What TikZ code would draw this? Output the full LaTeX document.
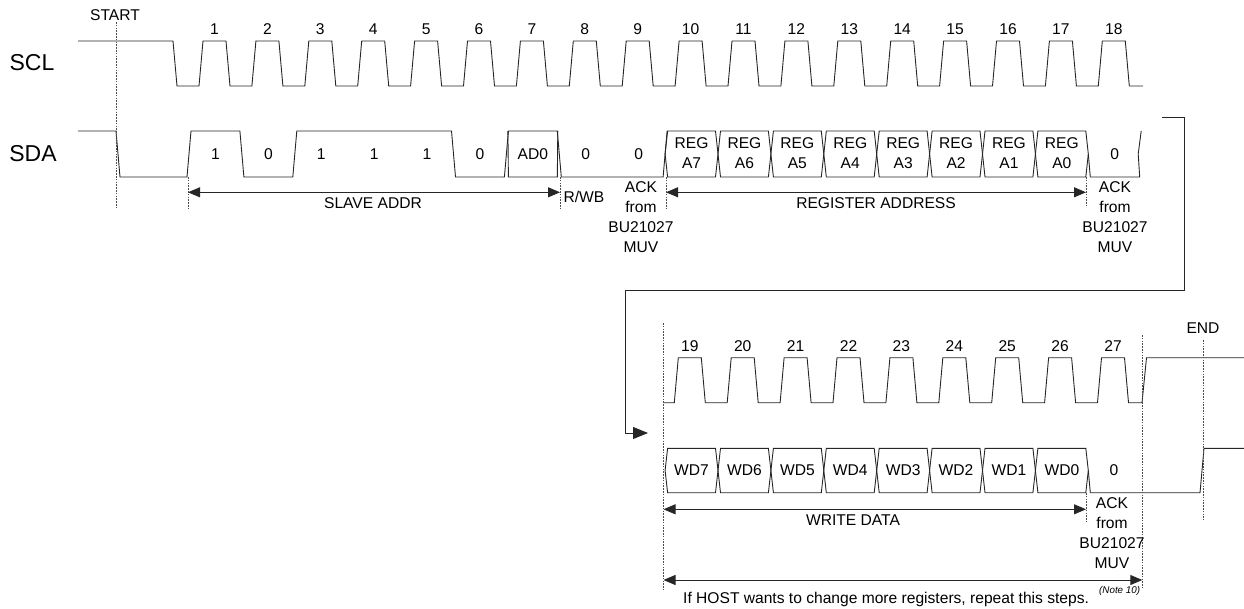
\documentclass[tikz,border=0pt]{standalone}
\usepackage{fontspec}
\setmainfont{Liberation Sans}
\usetikzlibrary{arrows.meta}
\begin{document}
\begin{tikzpicture}[x=1pt,y=-1pt,
  sig/.style={line width=0.9pt,black!85,line join=miter},
  cell/.style={line width=0.9pt,black!85},
  dsh/.style={line width=0.8pt,black!70,dash pattern=on 1.6pt off 1.2pt},
  darr/.style={line width=0.9pt,black!85,{Triangle[length=12pt,width=10pt]}-{Triangle[length=12pt,width=10pt]}},
  loop/.style={line width=0.9pt,black!85,-{Triangle[length=15pt,width=12pt]}},
  lbl/.style={inner sep=0pt,font=\fontsize{15.6}{20}\selectfont,align=center},
  big/.style={inner sep=0pt,font=\fontsize{23}{26}\selectfont},
  note/.style={inner sep=0pt,font=\fontsize{9.8}{11}\selectfont\itshape}]
\useasboundingbox (0,0) rectangle (1244,608);
\def\P{52.9}
% ---------- labels
\node[big] (scl) at (32,63) {SCL};
\node[big] (sda) at (33,154) {SDA};
\node[lbl] (start) at (115,15) {START};
\node[lbl] (endl) at (1203,328) {END};
% ---------- SCL top
\draw[sig] (78,41) -- (173,41) -- (177,86)
  \foreach \k in {1,...,18}{ -- ({203+(\k-1)*\P-4},86) -- ({203+(\k-1)*\P},41) -- ({203+(\k-1)*\P+23},41) -- ({203+(\k-1)*\P+27},86)}
  -- (1143,86);
\foreach \k in {1,...,18}
  \node[lbl] (n\k) at ({203+(\k-1)*\P+11.5},29) {\k};
% ---------- SDA top
\draw[sig] (78,131) -- (116,131) -- (120,177) -- ({189-2},177) -- ({189+2},131)
  -- ({189+\P-2},131) -- ({189+\P+2},177) -- ({189+2*\P-2},177) -- ({189+2*\P+2},131)
  -- ({189+5*\P-2},131) -- ({189+5*\P+2},177) -- ({189+6*\P-2},177) -- ({189+6*\P+2},131)
  -- ({189+7*\P-2},131) -- ({189+7*\P+2},177) -- ({189+9*\P-2},177) -- ({189+9*\P+2},131);
\draw[cell] ({189+6*\P+1.5},131) -- ({189+6*\P+2},177) -- ({189+7*\P-2},177) -- ({189+7*\P-1.5},131);
\foreach \j in {9,...,16}
  \draw[cell] ({189+\j*\P+2.5},131) -- ({189+(\j+1)*\P-2.5},131) -- ({189+(\j+1)*\P},154)
    -- ({189+(\j+1)*\P-2.5},177) -- ({189+\j*\P+2.5},177) -- ({189+\j*\P},154) -- cycle;
\draw[sig] ({189+17*\P},154) -- ({189+17*\P+2},177) -- ({189+18*\P-1.5},177) -- ({189+18*\P-3},154) -- ({189+18*\P},131);
% bit labels
\foreach \j/\t in {0/1,1/0,2/1,3/1,4/1,5/0,6/AD0,7/0,8/0,17/0}
  \node[lbl] (b\j) at ({189+(\j+0.5)*\P},154) {\t};
\foreach \j/\t in {9/7,10/6,11/5,12/4,13/3,14/2,15/1,16/0}
  \node[lbl] (r\j) at ({189+(\j+0.5)*\P},153) {REG\\A\t};
% top annotations
\coordinate (sa1) at (188,192.3);
\coordinate (sa2) at (560,192.3);
\coordinate (ra1) at (666,192.3);
\coordinate (ra2) at (1086,192.3);
\draw[darr] (sa1) -- (sa2);
\draw[darr] (ra1) -- (ra2);
\coordinate (st1) at (116,22); \coordinate (st2) at (116,208);
\coordinate (d1a) at (188,177); \coordinate (d1b) at (188,208);
\coordinate (d2a) at (560,177); \coordinate (d2b) at (560,208);
\coordinate (d3a) at (666,177); \coordinate (d3b) at (666,208);
\coordinate (d4a) at (1086,177); \coordinate (d4b) at (1086,206);
\draw[dsh] (st1) -- (st2);
\draw[dsh] (d1a) -- (d1b);
\draw[dsh] (d2a) -- (d2b);
\draw[dsh] (d3a) -- (d3b);
\draw[dsh] (d4a) -- (d4b);
\node[lbl] (slave) at (373,203) {SLAVE ADDR};
\node[lbl] (regad) at (876,203) {REGISTER ADDRESS};
\node[lbl] (rwb) at (584,197) {R/WB};
\node[lbl] (ack1) at (641,217.5) {ACK\\from\\BU21027\\MUV};
\node[lbl] (ack2) at (1115,217.5) {ACK\\from\\BU21027\\MUV};
% ---------- loop arrow
\coordinate (l0) at (1162,117);
\coordinate (l1) at (1184,117);
\coordinate (l2) at (1184,290);
\coordinate (l3) at (625,290);
\coordinate (l4) at (625,433);
\coordinate (l5) at (648,433);
\draw[loop] (l0) -- (l1) -- (l2) -- (l3) -- (l4) -- (l5);
% ---------- SCL bottom
\draw[sig] (663.5,402.7) -- (674.3,402.7)
  \foreach \k in {0,...,8}{ -- ({678.3+\k*\P-4},402.7) -- ({678.3+\k*\P},357.7) -- ({678.3+\k*\P+23},357.7) -- ({678.3+\k*\P+27},402.7)}
  -- (1142,402.7) -- (1146.5,357.7) -- (1244,357.7);
\foreach \k in {19,...,27}
  \node[lbl] (n\k) at ({678.3+(\k-19)*\P+11.5},346) {\k};
% ---------- SDA bottom
\foreach \j in {9,...,16}
  \draw[cell] ({189+\j*\P+2.5},448.3) -- ({189+(\j+1)*\P-2.5},448.3) -- ({189+(\j+1)*\P},470.5)
    -- ({189+(\j+1)*\P-2.5},492.7) -- ({189+\j*\P+2.5},492.7) -- ({189+\j*\P},470.5) -- cycle;
\draw[sig] ({189+17*\P},470.5) -- ({189+17*\P+2},492.7) -- (1200,492.7) -- (1204,448.3) -- (1244,448.3);
\foreach \j/\t in {9/7,10/6,11/5,12/4,13/3,14/2,15/1,16/0}
  \node[lbl] (w\j) at ({189+(\j+0.5)*\P},470.5) {WD\t};
\node[lbl] (bz) at (1114,470.5) {0};
% bottom dashed
\coordinate (e1a) at (663.5,323); \coordinate (e1b) at (663.5,590);
\coordinate (e2a) at (1086,493); \coordinate (e2b) at (1086,522);
\coordinate (e3a) at (1142.3,335); \coordinate (e3b) at (1142.3,588);
\coordinate (e4a) at (1203.3,340); \coordinate (e4b) at (1203.3,520);
\draw[dsh] (e1a) -- (e1b);
\draw[dsh] (e2a) -- (e2b);
\draw[dsh] (e3a) -- (e3b);
\draw[dsh] (e4a) -- (e4b);
% bottom arrows
\coordinate (wa1) at (663.5,509.3);
\coordinate (wa2) at (1086,509.3);
\coordinate (ha1) at (663.5,580);
\coordinate (ha2) at (1142.3,580);
\draw[darr] (wa1) -- (wa2);
\draw[darr] (ha1) -- (ha2);
\node[lbl] (wdata) at (853,520) {WRITE DATA};
\node[lbl] (ack3) at (1112,533) {ACK\\from\\BU21027\\MUV};
\node[lbl,anchor=west] (host) at (683,599) {If HOST wants to change more registers, repeat this steps.};
\node[note,anchor=west] (nt) at (1099,591) {(Note 10)};
\end{tikzpicture}
\end{document}
